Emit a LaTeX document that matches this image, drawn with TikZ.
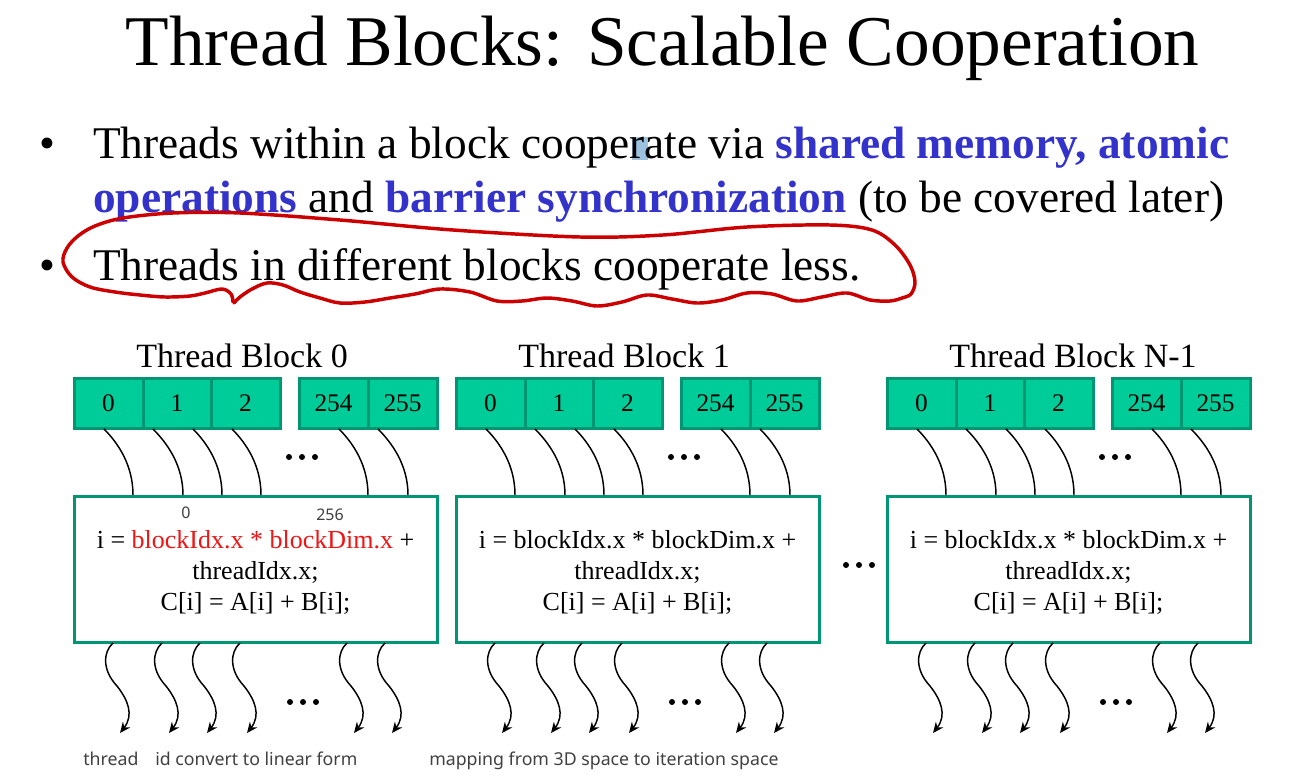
\documentclass[tikz,border=0pt]{standalone}
\usepackage{fontspec}
\setmainfont{Liberation Serif}
\newfontfamily\notefont{Noto Sans}
\usetikzlibrary{arrows.meta,calc}
\definecolor{cellfill}{RGB}{0,204,153}
\definecolor{celledge}{RGB}{0,150,115}
\definecolor{keyblue}{RGB}{51,51,204}
\definecolor{inkred}{RGB}{204,0,0}
\definecolor{hotred}{RGB}{240,20,20}
\definecolor{notegray}{RGB}{64,64,64}
\definecolor{hilite}{RGB}{156,194,224}
\newcommand{\fsz}[1]{\fontsize{#1}{1.2\dimexpr#1pt\relax}\selectfont}
\tikzset{
  cell/.style={draw=celledge, fill=cellfill, line width=2.25pt,
    minimum width=(#1)*0.75pt, minimum height=50*0.75pt, inner sep=0pt,
    font=\fsz{19}},
  kernelbox/.style={draw=celledge, fill=white, line width=2.25pt,
    minimum width=363*0.75pt, minimum height=146*0.75pt, inner sep=0pt},
  codetext/.style={align=center, font=\fontsize{19.5}{23.25}\selectfont, inner sep=0pt},
  blocktitle/.style={anchor=base west, inner sep=0pt, font=\fsz{25.5}},
  smallnote/.style={inner sep=0pt, text=notegray, font=\notefont\fsz{12}},
  capnote/.style={anchor=base west, inner sep=0pt, text=notegray, font=\notefont\fsz{13.3}},
  feed/.style={black, line width=1.1pt},
  spread/.style={black, line width=1.1pt, -{Stealth[length=8pt, width=7pt]}},
  dot/.style={circle, fill=black, inner sep=0pt, minimum size=6*0.75pt},
  ink/.style={inkred, line width=2.6pt, line cap=round, line join=round}
}
\begin{document}
\begin{tikzpicture}[x=0.75pt, y=-0.75pt]
\useasboundingbox (0,0) rectangle (1302,778);

% title
\node[anchor=base, inner sep=0pt, font=\fsz{53.5}] (title) at (662.5,65)
  {Thread Blocks: Scalable Cooperation};

% text marker over one letter
\fill[hilite] (632,137) rectangle (648,160);

% bullet list
\node[anchor=base, inner sep=0pt, font=\fsz{34}] (b1) at (47,158) {\textbullet};
\node[anchor=base west, inner sep=0pt, font=\fsz{34}] (l1) at (93,158)
  {Threads within a block cooperate via \textcolor{keyblue}{\textbf{shared memory, atomic}}};
\node[anchor=base west, inner sep=0pt, font=\fsz{34}] (l2) at (93,212)
  {\textcolor{keyblue}{\textbf{operations}} and \textcolor{keyblue}{\textbf{barrier synchronization}} (to be covered later)};
\node[anchor=base, inner sep=0pt, font=\fsz{34}] (b2) at (47,280) {\textbullet};
\node[anchor=base west, inner sep=0pt, font=\fsz{34}] (l3) at (93,280)
  {Threads in different blocks cooperate less.};

% freehand loop around the last bullet
\draw[ink] plot[smooth, tension=0.55] coordinates {
  (233,302) (231,294) (222,289) (205,293) (190,296) (165,297) (140,295)
  (115,292) (90,287) (72,277) (63,262) (67,248) (78,236) (95,226) (123,218)
  (173,213) (240,213) (340,220) (453,230) (580,237) (663,235) (747,227)
  (830,225) (872,230) (895,245) (910,265) (915,282) (911,294) (902,298)
  (890,301) (870,300) (847,293) (822,297) (797,301) (772,294) (747,293)
  (722,300) (697,303) (672,299) (647,295) (622,302) (597,306) (572,301)
  (547,298) (522,301) (497,301) (470,292) (440,289) (415,294) (390,298)
  (365,302) (340,303) (320,298) (300,292) (283,285) (267,283) (252,289)
  (240,297) (234,303)};

% thread blocks
\foreach \b/\bx/\name in {0/74/0, 1/456/1, 2/887/N-1} {
  \node[blocktitle] (bt\b) at (\bx+62,367) {Thread Block \name};
  % thread cells
  \foreach \k/\l/\r/\lab in {1/0/69/0, 2/69/137/1, 3/137/206/2, 4/225/294/254, 5/294/363/255} {
    \node[cell=\r-\l] (c\b-\k) at ({\bx+(\l+\r)/2},403) {\lab};
  }
  \node[dot] (td\b a) at (\bx+215,457) {};
  \node[dot] (td\b b) at (\bx+228,457) {};
  \node[dot] (td\b c) at (\bx+241,457) {};
  % kernel body
  \node[kernelbox] (k\b) at (\bx+181.5,569) {};
  % thread-to-kernel connectors
  \foreach \k/\s/\e in {1/30/59, 2/79/109, 3/119/148, 4/158/187, 5/265/294, 6/304/334} {
    \coordinate (ts\b-\k) at (\bx+\s,429);
    \coordinate (te\b-\k) at (\bx+\e,495);
    \draw[feed] (ts\b-\k) .. controls ($(ts\b-\k)+(14,14)$) and ($(te\b-\k)+(0,-30)$) .. (te\b-\k);
  }
  % kernel outputs
  \foreach \k/\s in {1/39, 2/88, 3/126, 4/166, 5/273, 6/311} {
    \coordinate (os\b-\k) at (\bx+\s,643);
    \coordinate (ot\b-\k) at (\bx+\s+7,733);
    \draw[spread] (os\b-\k) .. controls ($(os\b-\k)+(-10,9)$) and ($(os\b-\k)+(-11,27)$)
      .. ($(os\b-\k)+(4,43)$) .. controls ($(os\b-\k)+(15,57)$) and ($(os\b-\k)+(21,72)$) .. (ot\b-\k);
  }
  \node[dot] (bd\b a) at (\bx+216,702) {};
  \node[dot] (bd\b b) at (\bx+229,702) {};
  \node[dot] (bd\b c) at (\bx+242,702) {};
}

% kernel code
\node[codetext, anchor=base] (code0) at (255.5,610)
  {i = \textcolor{hotred}{blockIdx.x * blockDim.x} +\\ threadIdx.x;\\ C[i] = A[i] + B[i];};
\node[codetext, anchor=base] (code1) at (637.5,610)
  {i = blockIdx.x * blockDim.x +\\ threadIdx.x;\\ C[i] = A[i] + B[i];};
\node[codetext, anchor=base] (code2) at (1068.5,610)
  {i = blockIdx.x * blockDim.x +\\ threadIdx.x;\\ C[i] = A[i] + B[i];};

% value notes
\node[smallnote] (n0) at (186,513) {0};
\node[smallnote] (n256) at (330,515) {256};

% dots between blocks
\node[dot] (md1) at (846,565) {};
\node[dot] (md2) at (859,565) {};
\node[dot] (md3) at (872,565) {};

% captions
\node[capnote] (cap1) at (83,765) {thread};
\node[capnote] (cap2) at (155,765) {id convert to linear form};
\node[capnote] (cap3) at (429,765) {mapping from 3D space to iteration space};
\end{tikzpicture}
\end{document}
